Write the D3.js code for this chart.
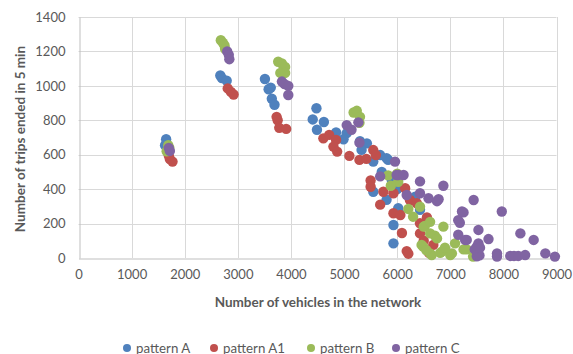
<!DOCTYPE html>
<html>
<head>
<meta charset="utf-8">
<script src="https://cdn.jsdelivr.net/npm/d3@7"></script>
<style>
  html, body { margin: 0; padding: 0; background: #fff; }
  svg { display: block; }
  text { font-family: Lato, "Open Sans", sans-serif; fill: #595959; }
</style>
</head>
<body>
<svg id="chart" width="573" height="354"></svg>
<script>
// Vehicles in the network vs. trips ended in 5 min, per demand pattern
const seriesNames = ["pattern A", "pattern A1", "pattern B", "pattern C"];
const seriesColors = ["#4F81BD", "#C0504D", "#9BBB59", "#8064A2"];

const xTicks = [0, 1000, 2000, 3000, 4000, 5000, 6000, 7000, 8000, 9000];
const yTicks = [0, 200, 400, 600, 800, 1000, 1200, 1400];

const patternA = [
  [1650, 690], [1630, 655], [2670, 1060], [2700, 1045], [2790, 1030],
  [3510, 1040], [3580, 980], [3620, 990], [3640, 925], [3690, 890],
  [4480, 870], [4410, 805], [4620, 790], [4490, 745], [4850, 730],
  [5050, 725], [4990, 690], [5300, 678], [5430, 666], [5330, 628],
  [5680, 598], [5550, 560], [5830, 570], [5710, 500], [5800, 580],
  [5550, 385], [5800, 338], [5930, 192], [5930, 85], [6020, 290],
  [6040, 262], [6340, 356], [6430, 280], [5900, 450], [6000, 400]
];
const patternA1 = [
  [1720, 575], [1770, 560], [1700, 595], [2810, 985], [2870, 965],
  [2920, 950], [3730, 820], [3750, 800], [3780, 756], [3910, 750],
  [4610, 695], [4720, 715], [4850, 686], [4800, 647], [4870, 618],
  [5100, 593], [5290, 570], [5420, 576], [5550, 627], [5600, 598],
  [5500, 450], [5500, 414], [5740, 385], [5680, 310], [5930, 376],
  [5930, 260], [6060, 250], [6090, 145], [6180, 40], [6240, 337],
  [6370, 318], [6430, 202], [6560, 235], [6430, 143], [6680, 76],
  [6150, 405], [6210, 25], [6600, 30], [6500, 100]
];
const patternB = [
  [1660, 620], [1690, 655], [1710, 640], [2680, 1265], [2720, 1250],
  [2750, 1235], [2760, 1215], [3760, 1140], [3830, 1130], [3890, 1110],
  [3800, 1075], [3890, 1075], [5180, 845], [5240, 855], [5300, 820],
  [5290, 785], [5830, 480], [6000, 490], [6020, 443], [6210, 285],
  [6300, 240], [6430, 298], [6500, 182], [6520, 186], [6620, 210],
  [6620, 143], [6710, 130], [6750, 114], [6870, 182], [6460, 76],
  [6490, 66], [6620, 27], [6650, 17], [6810, 30], [6840, 37],
  [7000, 17], [7030, 27], [7090, 85], [7250, 50], [7310, 50],
  [7430, 8], [6550, 45], [6900, 60], [5880, 420]
];
const patternC = [
  [1700, 640], [1720, 622], [2800, 1200], [2830, 1180], [2840, 1155],
  [3830, 1025], [3880, 1010], [3950, 1000], [3950, 947], [5050, 772],
  [5140, 745], [5270, 788], [5290, 670], [5680, 474], [5960, 560],
  [5990, 482], [6020, 482], [6120, 482], [6430, 445], [6180, 366],
  [6430, 376], [6590, 347], [6750, 330], [6780, 341], [6870, 420],
  [7150, 220], [7220, 270], [7250, 265], [7150, 135], [7280, 105],
  [7310, 105], [7440, 337], [7530, 163], [7500, 66], [7530, 85],
  [7720, 110], [7500, 10], [7550, 15], [7880, 27], [7880, 8],
  [7970, 270], [8130, 12], [8200, 12], [8280, 12], [8320, 143],
  [8410, 17], [8570, 105], [8790, 27], [8970, 8], [7460, 50],
  [7560, 60], [7180, 205]
];
const seriesData = [patternA, patternA1, patternB, patternC];

const svg = d3.select("#chart");
const x = d3.scaleLinear().domain([0, 9000]).range([78.5, 556.5]);
const y = d3.scaleLinear().domain([0, 1400]).range([258, 17]);

// grid
const grid = svg.append("g").attr("stroke", "#D9D9D9").attr("stroke-width", 1);
grid.selectAll("line.h").data(yTicks.slice(1)).join("line")
  .attr("x1", x(0)).attr("x2", x(9000))
  .attr("y1", d => Math.round(y(d)) + 0.5).attr("y2", d => Math.round(y(d)) + 0.5);
grid.selectAll("line.v").data(xTicks.slice(1)).join("line")
  .attr("y1", y(0)).attr("y2", y(1400))
  .attr("x1", d => Math.round(x(d)) + 0.5).attr("x2", d => Math.round(x(d)) + 0.5);

// axes
const xAxis = svg.append("g").attr("transform", `translate(0,${Math.round(y(0)) + 0.5})`)
  .call(d3.axisBottom(x).tickValues(xTicks).tickSize(0).tickPadding(11).tickFormat(d3.format("d")));
const yAxis = svg.append("g").attr("transform", `translate(${Math.round(x(0)) + 0.5},0)`)
  .call(d3.axisLeft(y).tickValues(yTicks).tickSize(0).tickPadding(14).tickFormat(d3.format("d")));
[xAxis, yAxis].forEach(a => {
  a.select(".domain").attr("stroke", "#BFBFBF");
  a.selectAll("text").attr("font-size", 13).attr("fill", "#595959")
    .style("font-family", "Lato, 'Open Sans', sans-serif");
});

// points
seriesData.forEach((data, i) => {
  svg.append("g").selectAll("circle").data(data).join("circle")
    .attr("cx", d => x(d[0])).attr("cy", d => y(d[1]))
    .attr("r", 5.2).attr("fill", seriesColors[i]);
});

// axis titles
svg.append("text").attr("x", 318).attr("y", 307).attr("text-anchor", "middle")
  .attr("font-size", 13.5).attr("font-weight", "bold").text("Number of vehicles in the network");
svg.append("text").attr("transform", "translate(25,139) rotate(-90)").attr("text-anchor", "middle")
  .attr("font-size", 13.5).attr("font-weight", "bold").text("Number of trips ended in 5 min");

// legend
const legendX = [127, 214, 311, 396];
const lg = svg.append("g");
seriesNames.forEach((name, i) => {
  lg.append("circle").attr("cx", legendX[i]).attr("cy", 348).attr("r", 4).attr("fill", seriesColors[i]);
  lg.append("text").attr("x", legendX[i] + 9).attr("y", 352.5).attr("font-size", 13.3).text(name);
});
</script>
</body>
</html>
